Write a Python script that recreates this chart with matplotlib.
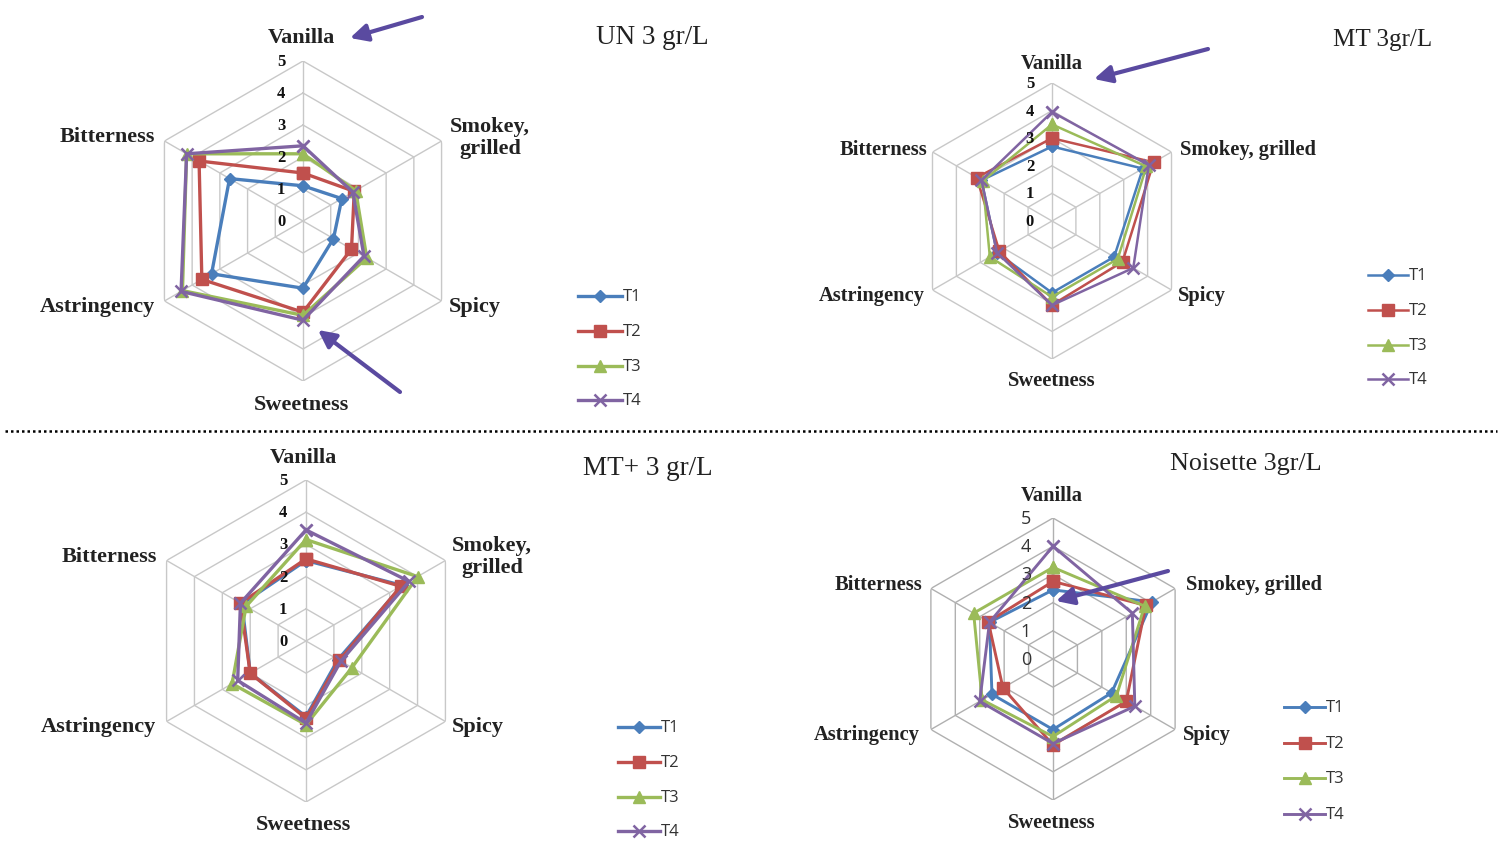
import numpy as np
import matplotlib
matplotlib.use("Agg")
import matplotlib.pyplot as plt
from matplotlib.lines import Line2D
from matplotlib.patches import FancyArrowPatch

W, H = 1504, 845

attributes = ["Vanilla", "Smokey, grilled", "Spicy", "Sweetness", "Astringency", "Bitterness"]
series_names = ["T1", "T2", "T3", "T4"]
ticks = [0, 1, 2, 3, 4, 5]

# sensory scores per treatment, attribute order as above
un_t1 = [1.1, 1.4, 1.1, 2.1, 3.3, 2.65]
un_t2 = [1.5, 1.85, 1.75, 2.85, 3.65, 3.75]
un_t3 = [2.1, 1.9, 2.3, 2.95, 4.35, 4.2]
un_t4 = [2.35, 1.8, 2.2, 3.1, 4.4, 4.2]

mt_t1 = [2.7, 3.8, 2.6, 2.6, 2.3, 2.95]
mt_t2 = [3.0, 4.25, 2.95, 3.05, 2.2, 3.15]
mt_t3 = [3.5, 3.95, 2.75, 2.75, 2.6, 2.9]
mt_t4 = [3.95, 4.05, 3.4, 3.05, 2.3, 2.95]

mtp_t1 = [2.5, 3.45, 1.15, 2.35, 2.0, 2.3]
mtp_t2 = [2.55, 3.4, 1.2, 2.4, 2.0, 2.35]
mtp_t3 = [3.15, 4.0, 1.65, 2.6, 2.65, 2.15]
mtp_t4 = [3.45, 3.7, 1.25, 2.55, 2.45, 2.35]

noi_t1 = [2.45, 4.05, 2.4, 2.5, 2.5, 2.6]
noi_t2 = [2.75, 3.8, 3.0, 3.05, 2.05, 2.65]
noi_t3 = [3.25, 3.75, 2.6, 2.75, 2.9, 3.25]
noi_t4 = [4.0, 3.25, 3.35, 3.0, 3.0, 2.6]

colors = ["#4a7ebb", "#c0504d", "#9bbb59", "#8064a2"]
markers = ["D", "s", "^", "x"]
msizes = [6, 8, 8, 9]

SERIF = ["Liberation Serif", "DejaVu Serif"]
SANS = ["Open Sans", "DejaVu Sans"]


def fx(x):
    return x / W


def fy(y):
    return 1 - y / H


panels = [
    dict(title="UN 3 gr/L", data=[un_t1, un_t2, un_t3, un_t4],
         center=(303, 222), radius=160, lw=2.4, grid="#c8c8c8",
         labels=[(301, 38), (490, 138), (475, 307), (301, 405), (97, 307), (107, 137)],
         smokey="Smokey,\ngrilled", title_pos=(652, 38), title_size=19.5,
         legend=(578, 622, [297, 332, 367, 401]), tick_x=281, tick_font="serif",
         label_size=16),
    dict(title="MT 3gr/L", data=[mt_t1, mt_t2, mt_t3, mt_t4],
         center=(1052, 222), radius=138, lw=1.8, grid="#c8c8c8",
         labels=[(1052, 64), (1248, 150), (1202, 296), (1052, 381), (872, 296), (883, 150)],
         smokey="Smokey, grilled", title_pos=(1383, 40), title_size=18,
         legend=(1368, 1408, [276, 311, 346, 380]), tick_x=1030, tick_font="serif",
         label_size=14.8),
    dict(title="MT+ 3 gr/L", data=[mtp_t1, mtp_t2, mtp_t3, mtp_t4],
         center=(306, 642), radius=161, lw=2.4, grid="#c8c8c8",
         labels=[(303, 458), (492, 557), (478, 727), (303, 825), (98, 727), (109, 557)],
         smokey="Smokey,\ngrilled", title_pos=(648, 469), title_size=19.5,
         legend=(618, 660, [728, 763, 798, 832]), tick_x=283, tick_font="serif",
         label_size=16),
    dict(title="Noisette 3gr/L", data=[noi_t1, noi_t2, noi_t3, noi_t4],
         center=(1053, 660), radius=141, lw=2.1, grid="#b0b0b0",
         labels=[(1052, 496), (1254, 585), (1207, 735), (1052, 823), (867, 735), (878, 585)],
         smokey="Smokey, grilled", title_pos=(1246, 464), title_size=18.8,
         legend=(1284, 1325, [708, 744, 779, 815]), tick_x=1026, tick_font="sans",
         label_size=14.8),
]

fig = plt.figure(figsize=(W / 100, H / 100), dpi=100)
fig.patch.set_facecolor("white")

n = len(attributes)
angles = np.arange(n) * 2 * np.pi / n
closed_angles = np.append(angles, angles[0])

for p in panels:
    cx, cy = p["center"]
    R = p["radius"]
    ax = fig.add_axes([fx(cx - R), fy(cy + R), fx(2 * R), 2 * R / H],
                      projection="polar")
    ax.set_theta_offset(np.pi / 2)
    ax.set_theta_direction(-1)
    ax.set_ylim(0, ticks[-1])
    ax.set_axis_off()

    # hexagonal grid rings and spokes
    for k in ticks[1:]:
        ax.plot(closed_angles, [k] * (n + 1), color=p["grid"], lw=1.0, zorder=1)
    for a in angles:
        ax.plot([a, a], [0, ticks[-1]], color=p["grid"], lw=1.0, zorder=1)

    for i, vals in enumerate(p["data"]):
        v = np.append(vals, vals[0])
        ax.plot(closed_angles, v, color=colors[i], lw=p["lw"], marker=markers[i],
                ms=msizes[i], mew=1.8 if markers[i] == "x" else 1.0,
                mec=colors[i], mfc=colors[i], zorder=3 + i, clip_on=False)

    # radial tick labels
    unit = R / ticks[-1]
    for k in ticks:
        if p["tick_font"] == "serif":
            fig.text(fx(p["tick_x"]), fy(cy - k * unit), str(k), ha="center", va="center",
                     family=SERIF, weight="bold", fontsize=12, color="#111111")
        else:
            fig.text(fx(p["tick_x"]), fy(cy - k * unit), str(k), ha="center", va="center",
                     family=SANS, fontsize=13, color="#333333")

    # category labels
    names = [attributes[0], p["smokey"]] + attributes[2:]
    for name, (lx, ly) in zip(names, p["labels"]):
        fig.text(fx(lx), fy(ly), name, ha="center", va="center", family=SERIF,
                 weight="bold", fontsize=p["label_size"], color="#222222",
                 linespacing=1.1)

    # panel title
    fig.text(fx(p["title_pos"][0]), fy(p["title_pos"][1]), p["title"], ha="center",
             va="center", family=SERIF, fontsize=p["title_size"], color="#222222")

    # legend entries
    x0, x1, ys = p["legend"]
    for i, ly in enumerate(ys):
        fig.add_artist(Line2D([fx(x0), fx((x0 + x1) / 2), fx(x1)], [fy(ly)] * 3,
                              transform=fig.transFigure, color=colors[i], lw=p["lw"],
                              marker=markers[i], markevery=[1], ms=msizes[i],
                              mew=1.8 if markers[i] == "x" else 1.0,
                              mec=colors[i], mfc=colors[i]))
        fig.text(fx(x1 + 1), fy(ly), series_names[i], ha="left", va="center",
                 family=SANS, fontsize=12, color="#333333")

# highlight arrows
arrow_color = "#5a4aa0"
arrows = [((422, 18), (350, 39)), ((400, 393), (318, 331)),
          ((1208, 50), (1094, 80)), ((1168, 572), (1056, 602))]
for (xa, ya), (xb, yb) in arrows:
    fig.add_artist(FancyArrowPatch((fx(xa), fy(ya)), (fx(xb), fy(yb)),
                                   transform=fig.transFigure, arrowstyle="-|>",
                                   mutation_scale=26, lw=3, color=arrow_color,
                                   shrinkA=0, shrinkB=0))

# dotted separator between the two rows
fig.add_artist(Line2D([fx(5), fx(1497)], [fy(432), fy(432)], transform=fig.transFigure,
                      color="black", lw=1.8, linestyle=(0, (1, 1.2))))

fig.savefig("out.png", dpi=100, facecolor="white")
